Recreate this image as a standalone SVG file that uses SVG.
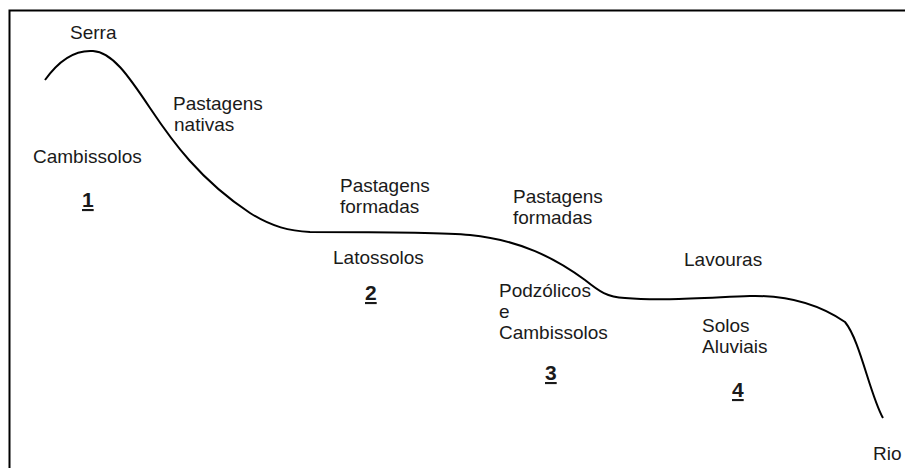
<svg xmlns="http://www.w3.org/2000/svg" width="905" height="468" viewBox="0 0 905 468">
<style>
text{font-family:"Liberation Sans",Arial,sans-serif;font-size:19px;fill:#1a1a1a}
.n{font-weight:bold;font-size:21px;text-decoration:underline}
.ln{fill:none;stroke:#000;stroke-width:2}
</style>
<rect width="905" height="468" fill="#fff"/>
<g id="frame"><path class="ln" d="M9.5,468 V10.5 H905"/></g>
<g id="connectors"><path id="profile" class="ln" d="M45,80 C62,56 78,50 93,51 C112,52 128,75 150,108 C172,141 200,180 250,213 C272,227 290,231 310,232 C380,232 440,232 470,235 C520,240 555,258 585,280 C600,292 607,297 625,298 C660,301 700,298 750,296 C790,295 820,305 845,322 C860,340 870,395 883,418"/></g>
<g id="serra"><text x="70" y="39">Serra</text></g>
<g id="pastagens-nativas"><text x="173" y="110">Pastagens</text><text x="174" y="131">nativas</text></g>
<g id="zone1"><text x="33" y="163">Cambissolos</text><text class="n" x="82" y="207">1</text></g>
<g id="pastagens-formadas-1"><text x="340" y="192">Pastagens</text><text x="340" y="213">formadas</text></g>
<g id="pastagens-formadas-2"><text x="513" y="203">Pastagens</text><text x="513" y="224">formadas</text></g>
<g id="zone2"><text x="333" y="264">Latossolos</text><text class="n" x="365" y="300">2</text></g>
<g id="zone3"><text x="499" y="297">Podzólicos</text><text x="499" y="318">e</text><text x="499" y="339">Cambissolos</text><text class="n" x="545" y="380">3</text></g>
<g id="lavouras"><text x="684" y="266">Lavouras</text></g>
<g id="zone4"><text x="702" y="332">Solos</text><text x="702" y="353">Aluviais</text><text class="n" x="732" y="397">4</text></g>
<g id="rio"><text x="873" y="460">Rio</text></g>
</svg>
